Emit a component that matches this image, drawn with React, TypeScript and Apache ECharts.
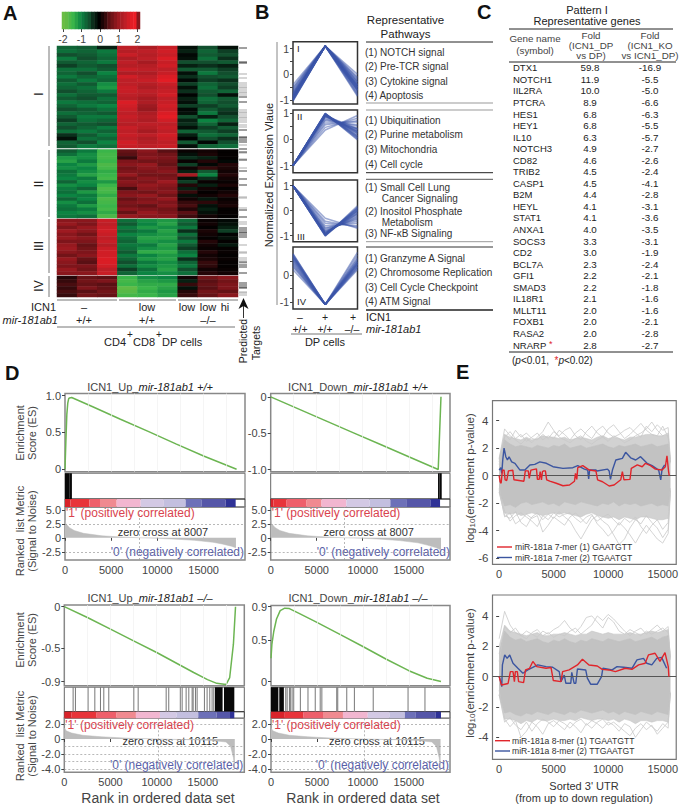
import React, { useEffect, useRef } from "react";
import * as echarts from "echarts";

const heatColumns = [0, 1, 2, 3, 4, 5, 6, 7, 8];
const heatI = [
  [-.7,-.6,-.2,1.5,1.3,1.6,-.1,-.5,-.1],[-.8,-.7,-.9,1.4,1.5,1.7,-.2,-.7,-.4],[-.5,-.6,-.8,1.6,1.4,1.6,-.05,-.6,-.5],[-.9,-.5,-.7,1.3,1.5,1.8,-.1,-.8,-.3],
  [-.6,-.7,-.9,1.5,1.2,1.6,-.5,-.5,-.6],[-.4,-.6,-.5,1.4,1.4,1.7,-.2,-.3,-.2],[-.8,-.8,-.6,1.6,1.5,1.5,-.6,-.6,-.4],[-.7,-.5,-1,1.3,1.3,1.6,-.1,-.9,-.5],
  [-.9,-.7,-.8,1.7,1.5,1.8,-.3,-.5,-.6],[-.6,-.9,-.7,1.5,1.6,1.9,-.05,-.4,-.3],[-.8,-.6,-1.1,1.5,1.4,1.6,-.4,-.7,-.5],[-.7,-.8,-1.2,1.6,1.3,1.5,-.1,-.8,-.4],
  [-.5,-.7,-.9,1.6,1.5,1.6,-.3,-.6,-.7],[-.8,-.6,-.6,1.5,1.4,1.7,-.02,-.5,-.1],[-.6,-.5,-.8,1.4,1.2,1.5,-.2,-.8,-.6],[-.9,-.8,-.7,1.8,1.3,1.6,-.1,-.7,-.5],
  [-.7,-.9,-1,1.7,1.1,1.7,-.4,-.4,-.6],[-.5,-.6,-.8,1.6,1,1.6,-.05,-.6,-.4],[-.8,-.7,-.6,1.5,1.3,1.8,-.1,-.9,-.3],[-.6,-.9,-.9,1.6,1.4,1.9,-.5,-.2,-.5],
  [-.4,-.8,-.7,1.5,1.3,1.7,-.2,-1,-.7],[-.7,-.6,-.5,1.4,1.5,1.5,-.3,-.7,-.2],[-.5,-.7,-.9,1.6,1.4,1.6,-.1,-.4,-.6],[-.8,-.9,-.7,1.5,1.2,1.5,-.7,-.6,-.4],
  [-.3,-.6,-.9,1.6,1.5,1.7,-.2,-.8,-.7],[-.1,-.8,-.7,1.5,1.3,1.6,-.02,-.5,-.3],[-.7,-.5,-1,1.7,1.4,1.5,-.6,-.05,-.5],[-.6,-.9,-.8,1.6,1.5,1.6,-.1,-.7,-.8],
];
const heatII = [
  [-.6,-.9,-1.5,.6,.9,.5,.05,.1,.02],[-.8,-1.1,-1.6,.5,.8,.7,-.1,.15,.03],[-1.2,-1.1,-1.6,.3,.9,.8,-.3,-.2,.02],[-1.3,-.9,-1.5,.8,.7,.7,.05,.2,-.05],
  [-1,-1.2,-1.7,.9,1,.6,-.4,-.05,.2],[-1.1,-1,-1.6,.7,.9,.8,.1,.3,.15],[-.8,-1.1,-1.4,.8,.8,.9,-.2,-.6,.1],[-.9,-1.3,-1.5,1,.7,.7,1.2,-1,.2],
  [-1,-.9,-1.6,.7,.9,.8,-.1,-.3,.1],[-.7,-1.1,-1.2,.9,.8,1.1,-.4,.05,.05],[-1.1,-1,-1.5,.8,1,.9,.2,-.2,.15],[-.9,-.7,-1.7,.4,.9,.8,-.2,.1,.02],
  [-.8,-1.2,-1.6,.8,.7,.9,.3,.02,.1],[-1,-.9,-1.4,.9,1,.7,-.1,.1,.2],[-.7,-1,-1.7,.6,.8,1,.1,-.15,.05],[-1.1,-.8,-1.6,.8,.9,.8,.3,.25,.1],
  [-.9,-1.2,-1.5,.7,.6,.9,.4,-.1,.15],[-.8,-.9,-1.6,.9,.8,.7,.2,-.2,.02],[-1,-1.1,-1.4,.6,1,.8,.5,-.1,.03],[-.9,-.8,-1.7,1,.9,.9,.35,.1,.01],
];
const heatIII = [
  [.9,.9,1.6,-.8,-1.1,-1.2,-.8,.05,-.05],[1,.8,1.5,-.6,-1,-1.3,-.6,.1,-.1],[.8,1,1.6,-.9,-1.2,-1.1,-.9,.02,-.2],[1.1,.9,1.7,-.7,-.9,-1.3,-.3,.15,-.4],
  [.9,.7,1.6,-1,-1.1,-1.2,-.8,.1,-.02],[1,.9,1.5,-.8,-1.3,-1.3,-.5,.03,-.1],[.8,.8,1.6,-.7,-1.2,-1.1,-.9,.2,.02],[1,.6,1.4,-.9,-.9,-1.3,-.6,.1,-.15],
  [1.1,.7,1.6,-.8,-1.1,-1.2,-.4,.05,.03],[.9,.8,1.7,-.6,-1.4,-1.4,-.8,.2,.05],[.7,.9,1.7,-.9,-1,-1.2,-1,.1,.02],[1,.6,1.8,-.7,-1.2,-1.3,-.3,.15,.05],
  [.9,.5,1.8,-.5,-.9,-1.1,-.7,.3,.03],[.8,.8,1.7,-.8,-1.1,-1.2,-.9,.25,.02],[1,.7,1.5,-.4,-.8,-1.3,-.5,.1,.05],[.9,.9,1.6,-.7,-1,-1.1,-.8,.2,.1],
];
const heatIV = [
  [.2,.6,.5,-1.5,-1.1,-1,.1,.7,.9],[.3,.7,.8,-1.6,-1.3,-1.2,-.2,.5,.7],[.4,.6,.5,-1.5,-1.4,-1.4,.3,.6,.8],[.3,.8,.6,-1.9,-1.5,-1.3,-.1,.5,.8],
  [.4,.5,.7,-1.8,-1.4,-1.2,.2,.7,.6],[.3,.7,.6,-1.6,-1.5,-1.3,.3,.6,.9],
];
const colorBarValues = [-2,-1.9,-1.7,-1.5,-1.3,-1.1,-.9,-.7,-.5,-.3,-.15,0,.15,.3,.5,.7,.9,1.1,1.3,1.5,1.7,1.9,2,.9];
const colorBarTicks = [-2, -1, 0, 1, 2];
const targetsBlack = [2,16,17,51,56,84,91,92,94,96,103,106,114,125,133,139,164,171,182,184,186,187,189,191,216,219,221,227,237,239,241,242];
const targetsGray = [28,32,37,39,41,42,44,46,47,49,64,66,67,69,71,72,74,76,79,81,99,107,113,122,151,152,162,176,178,199,206,207,212,214,217,246,247,249];

const patternI = [[-.4,1.1,0],[-.5,1.1,-.1],[-.55,1.1,-.15],[-.6,1.1,-.2],[-.65,1.1,-.25],[-.7,1.1,-.3],[-.72,1.1,-.35],[-.75,1.1,-.4],[-.78,1.1,-.42],[-.8,1.1,-.45],[-.82,1.1,-.48],[-.84,1.1,-.5],[-.86,1.1,-.52],[-.88,1.1,-.55],[-.9,1.1,-.58],[-.92,1.1,-.6],[-.94,1.1,-.62],[-.96,1.1,-.65],[-.98,1.1,-.7],[-1,1.1,-.75],[-1.02,1.1,-.8],[-1.04,1.1,-.85],[-.85,1.1,-.3],[-.9,1.1,-.4],[-.95,1.1,-.5],[-1,1.1,-.6]];
const patternII = [[-1,.35,.9],[-1,.45,.8],[-1,.55,.7],[-1,.62,.65],[-1,.7,.55],[-1,.75,.5],[-1,.8,.4],[-1,.85,.35],[-1,.88,.3],[-1,.9,.25],[-1,.92,.2],[-1,.94,.15],[-1,.95,.1],[-1,.96,.05],[-1,.97,0],[-1,.98,.05],[-1,.93,.22],[-1,.9,.3],[-1,.86,.38],[-1,.96,.12],[-1,.98,-.03],[-1,.94,.28],[-1,.88,.42]];
const patternIII = [[1,-.3,-.7],[1,-.42,-.65],[1,-.5,-.6],[1,-.6,-.5],[1,-.68,-.42],[1,-.72,-.35],[1,-.78,-.3],[1,-.82,-.25],[1,-.85,-.2],[1,-.88,-.15],[1,-.9,-.1],[1,-.92,-.05],[1,-.94,0],[1,-.96,.05],[1,-.98,.1],[1,-1,.15],[1,-1.02,.2],[1,-.95,-.02],[1,-.9,-.12],[1,-.97,.08],[1,-.99,.12],[1,-1,.02]];
const patternIV = [[.2,-1.1,.25],[.3,-1.1,.85],[.35,-1.1,.3],[.4,-1.1,.75],[.45,-1.1,.4],[.5,-1.1,.65],[.55,-1.1,.45],[.58,-1.1,.55],[.62,-1.1,.5],[.65,-1.1,.42],[.68,-1.1,.35],[.7,-1.1,.6],[.72,-1.1,.5],[.75,-1.1,.3],[.78,-1.1,.4],[.8,-1.1,.2]];

const pathwaysI = ["(1) NOTCH signal", "(2) Pre-TCR signal", "(3) Cytokine signal", "(4) Apoptosis"];
const pathwaysII = ["(1) Ubiquitination", "(2) Purine metabolism", "(3) Mitochondria", "(4) Cell cycle"];
const pathwaysIII = ["(1) Small Cell Lung", "      Cancer Signaling", "(2) Inositol Phosphate", "      Metabolism", "(3) NF-κB Signaling"];
const pathwaysIV = ["(1) Granzyme A Signal", "(2) Chromosome Replication", "(3) Cell Cycle Checkpoint", "(4) ATM Signal"];

const geneNames = ["DTX1","NOTCH1","IIL2RA","PTCRA","HES1","HEY1","IL10","NOTCH3","CD82","TRIB2","CASP1","B2M","HEYL","STAT1","ANXA1","SOCS3","CD2","BCL7A","GFI1","SMAD3","IL18R1","MLLT11","FOXB1","RASA2","NRARP"];
const foldDP = ["59.8","11.9","10.0","8.9","6.8","6.8","6.3","4.9","4.6","4.5","4.5","4.4","4.1","4.1","4.0","3.3","3.0","2.3","2.2","2.2","2.1","2.0","2.0","2.0","2.8"];
const foldKO = ["-16.9","-5.5","-5.0","-6.6","-6.3","-5.5","-5.7","-2.7","-2.6","-2.4","-4.1","-2.8","-3.1","-3.6","-3.5","-3.1","-1.9","-2.4","-2.1","-1.8","-1.6","-1.6","-2.1","-2.8","-2.7"];

const es1 = [[0,0],[100,.4],[200,.75],[300,.9],[400,.96],[500,.97],[720,.975],[3000,.85],[6000,.68],[9000,.515],[12000,.345],[15000,.18],[18570,0]];
const es2 = [[0,0],[3000,-.165],[6000,-.33],[9000,-.495],[12000,-.66],[15000,-.825],[18200,-1],[18350,-.5],[18500,0]];
const es3 = [[0,0],[2500,-.13],[5000,-.27],[7500,-.41],[10000,-.55],[12500,-.7],[14000,-.79],[15500,-.875],[16500,-.92],[17500,-.935],[17900,-.85],[18300,-.45],[18530,0]];
const es4 = [[0,.28],[100,.45],[300,.6],[600,.75],[1000,.85],[1500,.88],[2000,.875],[3000,.82],[5000,.71],[7500,.565],[10000,.42],[12500,.27],[15000,.13],[17000,.04],[18500,0]];
const metricA = [[0,3.2],[100,2.5],[500,1.8],[1000,1.3],[2000,.8],[4000,.35],[6000,.15],[8007,0],[10000,-.1],[12000,-.25],[14000,-.45],[16000,-.8],[17000,-1.1],[18000,-1.5],[18500,-1.8]];
const metricB = [[0,3.2],[100,2.5],[500,1.8],[1000,1.3],[2000,.8],[4000,.35],[6000,.15],[8007,0],[10000,-.1],[12000,-.25],[14000,-.5],[16000,-.9],[17000,-1.3],[18000,-1.8],[18500,-2.2]];
const metricC = [[0,1.5],[200,1.1],[800,.8],[2000,.5],[4000,.3],[7000,.1],[10115,0],[14000,-.1],[16000,-.2],[17500,-.4],[18000,-1],[18300,-2.5],[18450,-4]];
const hits1 = [[0,520],[540,620],[640,700]];
const hits2 = [[18180,18320],[18320,18580]];
const hits3 = [[900,900],[1150,1150],[2520,2520],[3250,3250],[3860,3860],[4220,4220],[4760,4760],[7470,7470],[7940,7940],[10970,10970],[11250,11250],[12500,12500],[12700,12700],[13130,13130],[13420,13420],[13780,13780],[13890,13890],[14140,14140],[14320,14320],[15110,15110],[15400,15400],[15690,15690],[15940,15940],[16120,16120],[16300,17130],[17280,18400]];
const hits4 = [[0,800],[900,1400],[1550,1550],[1700,1700],[1950,1950],[2050,2050],[2240,2240],[2420,2420],[3140,3140],[3970,3970],[4760,4760],[5300,5300],[5480,5480],[7100,7100],[7210,7210],[8190,8190],[9020,9020],[11070,11070],[14860,14860],[16700,16700]];
const stripColors = ["#d8232a","#e8343a","#ee5f6b","#f08a90","#f2b6d0","#d3c9e4","#c3bfdf","#6d70b8","#5556a8","#2f3296"];
const stripEdges1 = [0,600,2630,3790,5590,8190,10700,13060,14800,17380,18470];
const stripEdges2 = [0,300,1730,3900,5520,8220,10750,13000,14800,17350,18400];
const stripEdges3 = [0,800,3500,5660,7750,10350,12150,14500,16480,17930,18400];
const stripEdges4 = [0,1500,3500,5660,7830,10530,12880,14570,15760,17930,18500];

const sortedUtr = [0,500,1000,1500,2000,2500,3000,3500,4000,4500,5000,5500,6000,6500,7000,7500,8000,8500,9000,9500,10000,10500,11000,11500,12000,12500,13000,13500,14000,14500,15000,15500,15700];
const bandTop1 = [1.2,2.6,2.3,2.1,2.2,2.1,2.0,2.2,2.1,2.0,2.2,2.1,2.3,2.0,2.1,2.2,2.0,2.1,2.2,2.3,2.1,2.0,2.2,2.1,2.2,2.3,2.1,2.2,2.3,2.1,2.2,2.3,1.0];
const bandBot1 = [-1.1,-2.2,-2.1,-2.3,-2.0,-1.9,-2.1,-2.0,-1.9,-2.1,-2.0,-2.2,-1.9,-2.0,-2.1,-1.9,-2.0,-2.1,-2.2,-2.0,-2.1,-1.9,-2.2,-2.0,-2.1,-2.0,-2.2,-2.1,-2.0,-2.2,-2.1,-2.2,-.9];
const fringeTop1 = [1.3,3.0,2.8,2.7,2.6,2.8,2.6,2.7,2.9,2.8,2.8,2.7,2.8,2.6,2.7,2.8,2.7,2.6,2.8,2.9,2.7,2.8,2.7,2.6,2.8,2.8,2.9,3.0,3.0,2.9,2.9,3.0,1.1];
const fringeBot1 = [-1.2,-2.7,-2.8,-2.7,-2.9,-2.8,-2.7,-2.8,-2.9,-2.8,-2.7,-2.8,-2.7,-2.8,-2.9,-3.0,-2.8,-2.7,-2.9,-3.0,-3.1,-3.0,-3.2,-3.0,-3.1,-3.2,-3.0,-3.0,-3.1,-3.2,-3.2,-3.1,-1.1];
const upper1a = [1.2,3.4,2.9,2.6,2.3,2.7,2.4,2.8,3.2,3.9,3.3,2.8,2.6,2.4,2.7,2.9,2.5,2.3,2.6,2.8,2.5,2.9,2.7,2.4,2.6,2.9,3.1,3.4,3.9,3.3,2.9,3.1,1.0];
const upper1b = [.8,2.8,3.2,2.7,3.0,2.5,2.8,3.1,2.6,2.9,2.7,3.3,3.0,2.6,3.1,3.4,3.0,2.7,3.3,3.6,3.1,2.8,3.0,3.3,3.5,3.1,2.8,3.6,3.2,3.7,3.3,3.5,1.2];
const upper1c = [1.0,3.0,2.6,3.3,2.8,3.1,2.7,2.6,3.0,2.7,3.2,2.9,3.3,3.5,2.9,2.6,3.2,3.6,3.1,2.8,3.4,3.7,3.2,2.7,3.0,3.4,3.8,3.3,3.0,2.9,3.6,2.8,.9];
const lower1a = [-1.2,-2.9,-3.1,-2.6,-3.4,-3.7,-3.0,-2.7,-3.2,-2.8,-3.1,-2.6,-3.0,-3.3,-4.0,-4.6,-3.9,-3.2,-2.9,-3.3,-3.6,-4.3,-5.0,-4.6,-3.8,-3.2,-3.5,-2.9,-3.4,-3.8,-4.5,-3.9,-1.1];
const lower1b = [-.9,-2.6,-3.3,-2.9,-2.7,-3.0,-3.3,-3.7,-2.9,-3.2,-2.7,-3.0,-2.8,-2.7,-3.1,-3.4,-3.0,-2.8,-3.5,-3.9,-4.4,-4.0,-3.4,-3.8,-4.3,-4.9,-4.2,-3.6,-4.1,-4.6,-4.9,-4.2,-1.3];
const lower1c = [-1.0,-3.0,-2.7,-3.5,-3.2,-2.8,-3.1,-2.9,-4.1,-3.6,-3.0,-3.3,-3.6,-3.0,-2.7,-3.1,-3.5,-2.9,-3.3,-3.0,-2.8,-3.2,-3.6,-3.1,-3.4,-3.0,-3.7,-4.2,-3.6,-3.2,-3.9,-3.4,-1.0];
const red1 = [[0,0],[90,-.45],[180,-.55],[300,.4],[450,.4],[550,-.3],[700,-.35],[850,.35],[1250,.4],[1360,-.3],[2270,-.4],[2400,.35],[2670,.35],[2760,-.2],[2910,.4],[3420,.5],[3510,-.27],[3670,-.27],[3760,.3],[3880,-.3],[3970,.3],[4090,.35],[4240,.35],[4360,-.3],[4640,-.4],[5240,-.55],[5850,-.73],[6450,-.68],[6910,-.4],[7000,.17],[7120,-.27],[7210,.58],[7670,.73],[8270,.41],[8880,.34],[9030,-.3],[9480,-.44],[10090,-.75],[10540,-.68],[11150,-.3],[11300,.3],[11450,-.3],[12000,-.27],[12120,.53],[12670,.78],[13120,.65],[13420,.9],[13880,.73],[14330,.48],[14940,.41],[15240,.65],[15390,1.45],[15540,.3],[15600,0]];
const blue1 = [[0,.41],[150,.58],[240,.17],[330,1.14],[450,2],[610,1.38],[760,1.14],[910,1.38],[1150,1],[1450,.9],[1910,.41],[2360,.41],[2820,.78],[3270,.82],[3730,1],[4330,.9],[4940,.65],[5850,.53],[6760,.58],[7210,.73],[7820,.48],[8120,.41],[8210,-.24],[8300,.41],[8880,.41],[8970,.34],[9940,.48],[10090,.34],[10210,-.27],[10390,.41],[10700,1.14],[11300,1.26],[11600,1.7],[12060,1.3],[12520,1.14],[12970,1.38],[13270,1.14],[13570,.9],[14030,.73],[14630,.41],[14820,-.3],[14940,.48],[15180,.78]];
const bandTop2 = [1.5,3.0,2.6,2.4,2.5,2.3,2.4,2.5,2.3,2.2,2.4,2.3,2.5,2.3,2.2,2.4,2.3,2.5,2.4,2.3,2.5,2.4,2.3,2.4,2.5,2.3,2.4,2.5,2.6,2.4,2.6,2.7,1.2];
const bandBot2 = [-1.2,-2.4,-2.3,-2.5,-2.6,-2.4,-2.5,-2.3,-2.4,-2.5,-2.3,-2.4,-2.5,-2.3,-2.4,-2.2,-2.3,-2.4,-2.3,-2.2,-2.4,-2.3,-2.5,-2.3,-2.4,-2.5,-2.3,-2.4,-2.5,-2.3,-2.4,-2.5,-1.1];
const fringeTop2 = [2.0,3.4,3.0,2.9,2.8,2.7,2.8,2.9,2.7,2.7,2.8,2.8,2.9,2.8,2.7,2.8,2.8,3.0,2.9,2.8,2.9,2.8,2.8,2.8,2.9,2.8,2.8,2.9,3.0,2.9,3.0,3.1,1.3];
const fringeBot2 = [-1.2,-2.8,-2.8,-2.9,-3.1,-2.9,-3.0,-2.8,-2.9,-2.9,-2.8,-2.9,-2.9,-2.8,-2.9,-2.7,-2.8,-2.9,-2.8,-2.8,-2.9,-2.8,-3.0,-2.8,-2.9,-3.1,-2.9,-2.9,-3.0,-2.9,-2.9,-3.0,-1.1];
const upper2a = [2.5,4.3,3.4,2.9,2.7,3.0,2.8,2.6,3.0,2.8,3.1,3.3,3.7,3.2,2.9,3.3,3.9,4.0,3.6,3.2,3.9,3.6,3.0,2.8,3.1,2.9,2.7,3.0,2.8,3.0,3.2,2.9,1.3];
const upper2b = [1.0,3.3,2.9,3.2,2.7,2.5,2.9,3.1,2.7,2.9,2.6,2.8,2.7,3.0,3.2,2.8,3.1,3.4,4.0,3.7,4.1,3.8,3.4,3.0,2.7,3.0,3.2,2.8,3.1,3.4,3.0,3.3,1.1];
const lower2a = [-1.2,-3.0,-2.7,-3.2,-3.5,-3.0,-3.6,-3.1,-2.8,-3.0,-3.3,-2.9,-3.1,-3.4,-3.0,-2.8,-3.2,-2.9,-3.1,-3.4,-3.0,-3.2,-3.6,-3.1,-3.3,-4.0,-3.5,-3.0,-3.3,-3.6,-3.1,-3.4,-1.0];
const lower2b = [-.9,-2.8,-3.3,-2.9,-4.0,-3.6,-3.0,-3.3,-3.8,-3.1,-2.9,-3.2,-3.5,-3.0,-3.3,-3.7,-3.1,-3.4,-3.0,-2.8,-3.2,-3.0,-3.3,-3.6,-3.9,-3.4,-3.1,-3.5,-3.2,-3.8,-3.4,-3.0,-1.1];
const red2 = [[0,0],[210,-.55],[820,-.45],[1030,.33],[1270,.33],[1400,-.33],[1485,.33],[1665,.33],[1785,-.33],[2240,-.4],[2420,.44],[2790,.55],[3090,1],[3450,.66],[4300,.55],[4760,.6],[4970,-.26],[5670,-.33],[5820,.33],[6420,.44],[7180,.77],[7640,1.14],[8240,.77],[9000,.7],[9450,.48],[10060,.44],[10660,.33],[11570,.55],[12180,.48],[12790,.77],[13390,.88],[13690,1.43],[14300,1.54],[14750,1],[15210,1.58],[15510,.66],[15570,0]];
const blue2 = [[0,0],[150,-.33],[240,-.66],[300,.77],[510,1.43],[730,1.2],[970,1.43],[1270,.88],[1720,.55],[2180,.22],[2630,.44],[3540,.77],[4300,.66],[4910,.62],[5510,.33],[5670,-.33],[5970,.1],[6120,-.44],[6570,-.44],[6660,.28],[6880,-.44],[7030,-.44],[7180,.5],[7940,.44],[8090,-.1],[8390,-.5],[9000,-.5],[9390,0],[9510,.55],[10360,.44],[10810,.66],[11420,.62],[12180,.55],[12640,1.1],[13240,1.2],[13540,.88],[14000,.77],[14450,1.2],[14900,1.27],[15360,.55]];

const rankTicks = [0, 5000, 10000, 15000];
const utrTicks = [0, 5000, 10000, 15000];
const FONT = "Liberation Sans";
const graphics: any[] = [];
const T = (text: string, x: number, y: number, o: any = {}) => graphics.push({
  type: "text", x, y, rotation: o.rot || 0, silent: true,
  style: { text, x: 0, y: 0, fill: o.c || "#222", fontFamily: FONT, fontSize: o.s || 10, fontStyle: o.i ? "italic" : "normal", fontWeight: o.b ? "bold" : "normal", align: o.a || "left", verticalAlign: "middle", rich: o.rich },
});
const L = (x1: number, y1: number, x2: number, y2: number, c = "#222", w = 1) => graphics.push({
  type: "line", silent: true, shape: { x1, y1, x2, y2 }, style: { stroke: c, lineWidth: w },
});

function buildOption() {
  const grid: any[] = [], xAxis: any[] = [], yAxis: any[] = [], series: any[] = [];
  const addGrid = (x0: number, y0: number, x1: number, y1: number, border?: string, bw = 1) => {
    grid.push({ left: x0, top: y0, width: x1 - x0, height: y1 - y0, show: !!border, borderColor: border || "transparent", borderWidth: bw, backgroundColor: "transparent" });
    return grid.length - 1;
  };
  const addAxis = (list: any[], o: any) => { list.push(o); return list.length - 1; };
  const hiddenCat = (g: number, data: any[], extra: any = {}) => ({ gridIndex: g, type: "category", data, show: false, ...extra });
  const hiddenVal = (g: number, min: number, max: number, extra: any = {}) => ({ gridIndex: g, type: "value", min, max, show: false, splitLine: { show: false }, ...extra });
  const valAxis = (g: number, min: number, max: number, ticks: number[], fmt: any, s: number, extra: any = {}) => ({
    gridIndex: g, type: "value", min, max, splitLine: { show: false }, axisLine: { show: false },
    axisTick: { show: true, length: 3, lineStyle: { color: "#444" }, customValues: ticks },
    axisLabel: { customValues: ticks, formatter: fmt, fontSize: s, color: "#444", fontFamily: FONT, margin: 4, showMinLabel: true, showMaxLabel: true, hideOverlap: false },
    ...extra,
  });

  // Panel A heat maps
  [[heatI, 46, 148], [heatII, 149.5, 218], [heatIII, 219, 275], [heatIV, 276, 297]].forEach(([rows, t, b]: any) => {
    const g = addGrid(57, t, 238, b);
    const xi = addAxis(xAxis, hiddenCat(g, heatColumns));
    const yi = addAxis(yAxis, hiddenCat(g, rows.map((_: any, i: number) => i), { inverse: true }));
    const data: any[] = [];
    rows.forEach((r: number[], i: number) => r.forEach((v, j) => data.push([j, i, v])));
    series.push({ type: "heatmap", xAxisIndex: xi, yAxisIndex: yi, data, silent: true, progressive: 0, itemStyle: { borderWidth: 0 } });
  });
  // colour bar
  {
    const g = addGrid(62, 12, 140, 29);
    const xi = addAxis(xAxis, hiddenCat(g, colorBarValues.map((_, i) => i)));
    const yi = addAxis(yAxis, hiddenCat(g, [0]));
    series.push({ type: "heatmap", xAxisIndex: xi, yAxisIndex: yi, data: colorBarValues.map((v, i) => [i, 0, v]), silent: true, progressive: 0 });
    addAxis(xAxis, valAxis(g, -2.05, 2.14, colorBarTicks, (v: number) => String(v), 10.5, { position: "bottom" }));
  }
  // targets
  {
    const g = addGrid(239, 46, 247, 297);
    const xi = addAxis(xAxis, hiddenVal(g, 0, 1));
    const yi = addAxis(yAxis, hiddenVal(g, 0, 251, { inverse: true }));
    [[targetsGray, "#999"], [targetsBlack, "#111"]].forEach(([d, c]: any) =>
      series.push({ type: "scatter", xAxisIndex: xi, yAxisIndex: yi, data: d.map((v: number) => [0.5, v]), symbol: "rect", symbolSize: [8, 1], silent: true, itemStyle: { color: c } }));
  }
  // Panel B
  const bLayout: any[] = [
    [patternI, 41.7, 104, -1.15, 1.27],
    [patternII, 110, 172.7, -1.27, 1.11],
    [patternIII, 180, 241.7, -1.24, 1.23],
    [patternIV, 247, 309, -1.27, 1.05],
  ];
  bLayout.forEach(([lines, t, b, lo, hi], k) => {
    const g = addGrid(293, t, 357.5, b, "#333", 1.5);
    const xi = addAxis(xAxis, hiddenCat(g, ["a", "b", "c"], { boundaryGap: false }));
    const labels = k === 3 ? [-1, 0] : [-1, 0, 1];
    const yi = addAxis(yAxis, valAxis(g, lo, hi, labels, (v: number) => String(v), 10.5));
    yAxis[yi].axisTick.customValues = k === 3 ? [-1, -.5, 0, .5] : [-1, -.5, 0, .5, 1];
    lines.forEach((v: number[]) => series.push({ type: "line", xAxisIndex: xi, yAxisIndex: yi, data: v, symbol: "none", silent: true, lineStyle: { color: "rgba(60,85,170,0.5)", width: 1.5 } }));
  });

  // Panel D
  const dashed = (vals: number[], key: string, color = "#999", type: any = [2, 2]) => ({
    silent: true, symbol: "none", animation: false, label: { show: false }, lineStyle: { color, width: .7, type }, data: vals.map((v) => ({ [key]: v })),
  });
  const esFmt = (v: number) => (v === 0 ? "0" : v === 1 ? "1.0" : v === -1 ? "-1.0" : String(v));
  const metricFmt = (v: number) => (v === 0 ? "0" : v.toFixed(1));
  const gseaLayout: any[] = [
    { x0: 65, x1: 245, top: 393.5, esB: 471.7, hitB: 499, strB: 507, metB: 560, lo: -.033, hi: 1.03, esT: [0, .5, 1], mlo: -3.97, mhi: 5.5, mT: [-2.5, 0, 2.5, 5], es: es1, hits: hits1, edges: stripEdges1, metric: metricA, zero: 8007 },
    { x0: 270.7, x1: 450, top: 393.5, esB: 471.7, hitB: 499, strB: 507, metB: 560, lo: -1.03, hi: .046, esT: [-1, -.5, 0], mlo: -3.97, mhi: 5.5, mT: [-2.5, 0, 2.5, 5], es: es2, hits: hits2, edges: stripEdges2, metric: metricB, zero: 8007 },
    { x0: 64.3, x1: 244.3, top: 605, esB: 685.7, hitB: 711.7, strB: 718.3, metB: 772.3, lo: -.948, hi: .02, esT: [-.9, -.5, 0], mlo: -4.47, mhi: 2.78, mT: [-4, -2, 0, 2], es: es3, hits: hits3, edges: stripEdges3, metric: metricC, zero: 10115 },
    { x0: 271, x1: 450, top: 605.5, esB: 685.7, hitB: 711.7, strB: 718.3, metB: 772.3, lo: -.05, hi: .912, esT: [0, .5, .9], mlo: -4.47, mhi: 2.78, mT: [-4, -2, 0, 2], es: es4, hits: hits4, edges: stripEdges4, metric: metricC, zero: 10115 },
  ];
  const xMax = 19480;
  gseaLayout.forEach((p) => {
    const major = p.zero === 8007 ? [-2.5, 2.5] : [-4, -3, -2, -1, 2];
    // ES
    let g = addGrid(p.x0, p.top, p.x1, p.esB, "#888", 1.5);
    let xi = addAxis(xAxis, hiddenVal(g, 0, xMax));
    let yi = addAxis(yAxis, valAxis(g, p.lo, p.hi, p.esT, esFmt, 11));
    series.push({ type: "line", xAxisIndex: xi, yAxisIndex: yi, data: p.es, symbol: "none", silent: true, lineStyle: { color: "#6cb552", width: 1.5 }, markLine: dashed([2500, 5000, 7500, 10000, 12500, 15000, 17500], "xAxis", "#f0f0f0", "solid") });
    // hits
    g = addGrid(p.x0, p.esB + 1.5, p.x1, p.hitB, "#666", 1);
    xi = addAxis(xAxis, hiddenVal(g, 0, xMax));
    yi = addAxis(yAxis, hiddenVal(g, 0, 1));
    series.push({
      type: "custom", xAxisIndex: xi, yAxisIndex: yi, data: p.hits, silent: true, encode: { x: [0, 1] },
      renderItem: (_: any, api: any) => {
        const s = api.value(0), e = api.value(1);
        const a = api.coord([s, 1]), b = api.coord([e, 0]);
        return { type: "rect", shape: { x: a[0], y: a[1], width: Math.max(b[0] - a[0], 1), height: b[1] - a[1] }, style: { fill: e === s ? "#777" : "#080808" } };
      },
    });
    // strip
    g = addGrid(p.x0, p.hitB, p.x1, p.strB, "#333", 1);
    xi = addAxis(xAxis, hiddenVal(g, 0, xMax));
    yi = addAxis(yAxis, hiddenVal(g, 0, 1));
    series.push({
      type: "custom", xAxisIndex: xi, yAxisIndex: yi, silent: true, encode: { x: [0, 1] },
      data: stripColors.map((_, i) => [p.edges[i], p.edges[i + 1], i]),
      renderItem: (_: any, api: any) => {
        const a = api.coord([api.value(0), 1]), b = api.coord([api.value(1), 0]);
        return { type: "rect", shape: { x: a[0], y: a[1], width: b[0] - a[0], height: b[1] - a[1] }, style: { fill: stripColors[api.value(2)] } };
      },
    });
    // metric
    g = addGrid(p.x0, p.strB, p.x1, p.metB, "#888", 1.5);
    xi = addAxis(xAxis, valAxis(g, 0, xMax, rankTicks, (v: number) => String(v), 11));
    yi = addAxis(yAxis, valAxis(g, p.mlo, p.mhi, p.mT, metricFmt, 11));
    series.push({
      type: "line", xAxisIndex: xi, yAxisIndex: yi, data: p.metric, symbol: "none", silent: true,
      lineStyle: { color: "#bdbdbd", width: .5 }, areaStyle: { color: "#bdbdbd", opacity: 1, origin: 0 },
      markLine: { ...dashed(major, "yAxis"), data: [...major.map((v: number) => ({ yAxis: v })), { xAxis: p.zero }] },
    });
  });

  // Panel E
  const eLayout: any[] = [
    { t: 400.7, b: 564.3, lo: -6.44, hi: 5.45, ticks: [-6, -4, -2, 0, 2, 4], top: bandTop1, bot: bandBot1, ftop: fringeTop1, fbot: fringeBot1, lines: [upper1a, upper1b, upper1c, lower1a, lower1b, lower1c], red: red1, blue: blue1 },
    { t: 595, b: 759.3, lo: -5.45, hi: 5.38, ticks: [-4, -2, 0, 2, 4], top: bandTop2, bot: bandBot2, ftop: fringeTop2, fbot: fringeBot2, lines: [upper2a, upper2b, lower2a, lower2b], red: red2, blue: blue2 },
  ];
  eLayout.forEach((p) => {
    const g = addGrid(492.5, p.t, 676.7, p.b, "#777", 1.2);
    const xi = addAxis(xAxis, valAxis(g, -610, 16240, utrTicks, (v: number) => String(v), 11));
    const yi = addAxis(yAxis, valAxis(g, p.lo, p.hi, p.ticks, (v: number) => String(v), 11.5));
    const xy = (v: number[]) => v.map((y, i) => [sortedUtr[i], y]);
    p.lines.forEach((v: number[]) => series.push({ type: "line", xAxisIndex: xi, yAxisIndex: yi, data: xy(v), symbol: "none", silent: true, lineStyle: { color: "#c9c9c9", width: .8 } }));
    [p.ftop, p.fbot].forEach((v: number[]) => series.push({ type: "line", xAxisIndex: xi, yAxisIndex: yi, data: xy(v), symbol: "none", silent: true, lineStyle: { color: "#c8c8c8", width: .6 }, areaStyle: { color: "#d2d2d2", opacity: 1, origin: 0 } }));
    [p.top, p.bot].forEach((v: number[]) => series.push({ type: "line", xAxisIndex: xi, yAxisIndex: yi, data: xy(v), symbol: "none", silent: true, lineStyle: { color: "#c2c2c2", width: .7 }, areaStyle: { color: "#c2c2c2", opacity: 1, origin: 0 } }));
    series.push({ type: "line", xAxisIndex: xi, yAxisIndex: yi, data: p.blue, symbol: "none", silent: true, z: 4, lineStyle: { color: "#3b55a0", width: 1.4 } });
    series.push({ type: "line", xAxisIndex: xi, yAxisIndex: yi, data: p.red, symbol: "none", silent: true, z: 5, lineStyle: { color: "#e0252b", width: 1.4 }, markLine: { silent: true, symbol: "none", label: { show: false }, lineStyle: { color: "#555", width: 1, type: "solid" }, data: [{ yAxis: 0 }] } });
  });

  // ---- texts
  graphics.length = 0;
  [["A", 3, 13], ["B", 255, 12], ["C", 477, 12], ["D", 5, 373], ["E", 456, 372]].forEach(([s, x, y]: any) => T(s, x, y, { s: 20, b: true, c: "#111" }));
  // A
  [[46, 146], [150, 217], [219, 273], [276, 297]].forEach(([a, b]) => L(49, a, 49, b, "#777", 1));
  [["I", 94], ["II", 184], ["III", 246], ["IV", 286]].forEach(([s, y]: any) => T(s, 39, y, { rot: Math.PI / 2, a: "center", s: 12 }));
  T("ICN1", 56, 307, { a: "right", s: 11 });
  T("mir-181ab1", 58, 320, { a: "right", s: 11, i: true });
  [["–", 84, 307], ["low", 147, 307], ["low", 187, 307], ["low", 208, 307], ["hi", 225, 307], ["+/+", 84, 320], ["+/+", 147, 320], ["–/–", 208, 320]].forEach(([s, x, y]: any) => T(s, x, y, { a: "center", s: 11 }));
  [[57, 117], [119, 176], [178, 238]].forEach(([a, b]) => L(a, 300, b, 300, "#777", 1));
  L(57, 327, 235, 327, "#777", 1);
  T("CD4", 104, 342, { s: 11 }); T("+", 127, 334, { s: 10 }); T("CD8", 133, 342, { s: 11 }); T("+", 156, 334, { s: 10 }); T("DP cells", 162, 342, { s: 11 });
  graphics.push({ type: "polygon", silent: true, shape: { points: [[243.5, 298], [238.5, 309], [243.5, 306], [248.5, 309]] }, style: { fill: "#111" } });
  L(243.5, 306, 243.5, 318, "#333", 1);
  T("Predicted", 243, 341, { rot: Math.PI / 2, a: "center", s: 10.5 });
  T("Targets", 256, 343, { rot: Math.PI / 2, a: "center", s: 10.5 });
  // B
  T("Normalized Expression Vlaue", 269, 175, { rot: Math.PI / 2, a: "center", s: 11 });
  L(277, 42, 277, 305, "#888", 1);
  [["I", 297, 48], ["II", 297, 116], ["III", 297, 236], ["IV", 297, 301]].forEach(([s, x, y]: any) => T(s, x, y, { s: 9.5 }));
  T("Representative", 405.5, 20, { a: "center", s: 11.5 });
  T("Pathways", 405.5, 34, { a: "center", s: 11.5 });
  [[42, "#222", 1], [103, "#999", 1.2], [110, "#999", 1.2], [172.7, "#222", 1], [179.3, "#555", 1], [241.7, "#999", 1], [247, "#333", 1], [310, "#222", 1.5]].forEach(([y, c, w]: any) => L(366, y, 493, y, c, w));
  const pw = (list: string[], ys: number[]) => list.forEach((s, i) => T(s, 365, ys[i], { s: 10, c: "#333" }));
  pw(pathwaysI, [52, 66, 81, 95]);
  pw(pathwaysII, [120, 134.6, 149, 164]);
  pw(pathwaysIII, [187.6, 198.5, 211, 222, 233]);
  pw(pathwaysIV, [258, 272, 287, 301]);
  [["–", 300, 317], ["+", 325, 317], ["+", 353, 317], ["+/+", 300, 329], ["+/+", 325, 329], ["–/–", 352, 329]].forEach(([s, x, y]: any) => T(s, x, y, { a: "center", s: 10.5 }));
  T("ICN1", 366, 317, { s: 11 });
  T("mir-181ab1", 366, 329, { s: 11, i: true });
  L(291, 334, 362, 334, "#777", 1);
  T("DP cells", 325, 342, { a: "center", s: 11 });
  // C
  T("Pattern I", 587, 10, { a: "center", s: 11 });
  T("Representative genes", 587, 21, { a: "center", s: 11 });
  L(509, 29, 673, 29, "#222", 1);
  const headS = { a: "center", s: 9.8, c: "#444" };
  T("Gene name", 535, 38, headS); T("(symbol)", 535, 50, headS);
  T("Fold", 591, 35.5, headS); T("(ICN1_DP", 591, 45.5, headS); T("vs DP)", 591, 55.5, headS);
  T("Fold", 650, 35.5, headS); T("(ICN1_KO", 650, 45.5, headS); T("vs ICN1_DP)", 650, 55.5, headS);
  L(509, 62, 676, 62, "#222", 1);
  geneNames.forEach((g, i) => {
    const y = 67.8 + i * 11.55;
    T(g, 513, y, { s: 9.5 });
    T(foldDP[i], 590, y, { s: 9.8, a: "center" });
    T(foldKO[i], 650, y, { s: 9.8, a: "center" });
  });
  T("*", 549, 344, { s: 9, c: "#e0252b" });
  L(509, 352, 673, 352, "#222", 1);
  T("{n|(}{i|p}{n|<0.01,  }{r|*}{i|p}{n|<0.02)}", 512, 360, { s: 10, rich: { n: { fontFamily: FONT, fontSize: 10, fill: "#222" }, i: { fontFamily: FONT, fontSize: 10, fontStyle: "italic", fill: "#222" }, r: { fontFamily: FONT, fontSize: 10, fill: "#e0252b" } } });
  // D
  const tRich = { n: { fontFamily: FONT, fontSize: 11, fill: "#444" }, i: { fontFamily: FONT, fontSize: 11, fontStyle: "italic", fill: "#222" } };
  T("{n|ICN1_Up_}{i|mir-181ab1 +/+}", 150, 386.5, { a: "center", rich: tRich });
  T("{n|ICN1_Down_}{i|mir-181ab1 +/+}", 358, 386.5, { a: "center", rich: tRich });
  T("{n|ICN1_Up_}{i|mir-181ab1 –/–}", 150, 598, { a: "center", rich: tRich });
  T("{n|ICN1_Down_}{i|mir-181ab1 –/–}", 358, 598, { a: "center", rich: tRich });
  [[433, 531], [640, 736]].forEach(([a, b]) => {
    T("Enrichment", 20, a, { rot: Math.PI / 2, a: "center", s: 11, c: "#444" });
    T("Score (ES)", 32, a, { rot: Math.PI / 2, a: "center", s: 11, c: "#444" });
    T("Ranked  list Metric", 20, b, { rot: Math.PI / 2, a: "center", s: 11, c: "#444" });
    T("(Signal to Noise)", 32, b, { rot: Math.PI / 2, a: "center", s: 11, c: "#444" });
  });
  const RED = "#d9434e", BLUE = "#5a5fa8";
  gseaLayout.forEach((p, k) => {
    const y1 = k < 2 ? 513 : 725;
    const yz = k < 2 ? 531.5 : 741;
    const y0 = k < 2 ? 552 : 765;
    T("'1' (positively correlated)", p.x0 + 1, y1, { s: 12, c: RED });
    T(`zero cross at ${p.zero}`, p.x0 + (k < 2 ? 98 : 106), yz, { s: 11, a: "center", c: "#333" });
    T("'0' (negatively correlated)", p.x1 + (k === 1 ? 0 : -1), y0, { s: 12, c: BLUE, a: "right" });
  });
  T("Rank in ordered data set", 158, 798, { a: "center", s: 14, c: "#444" });
  T("Rank in ordered data set", 363, 798, { a: "center", s: 14, c: "#444" });
  // E
  const lgRich = { a: { fontFamily: FONT, fontSize: 11.5, fill: "#444" }, b: { fontFamily: FONT, fontSize: 8, fill: "#444", verticalAlign: "bottom" } };
  T("{a|log}{b|10}{a|(enrichment p-value)}", 470, 478, { rot: Math.PI / 2, a: "center", rich: lgRich });
  T("{a|log}{b|10}{a|(enrichment p-value)}", 470, 673, { rot: Math.PI / 2, a: "center", rich: lgRich });
  [[497, 512, 547, "#e0252b"], [497, 512, 557.5, "#3b55a0"], [495, 510, 740.7, "#e0252b"], [495, 510, 751, "#3b55a0"]].forEach(([a, b, y, c]: any) => L(a, y, b, y, c, 1.4));
  T("miR-181a 7-mer (1) GAATGTT", 515, 547, { s: 8.6, c: "#333" });
  T("miR-181a 7-mer (2) TGAATGT", 515, 557.5, { s: 8.6, c: "#333" });
  T("miR-181a 8-mer (1) TGAATGTT", 512, 740.7, { s: 8.6, c: "#333" });
  T("miR-181a 8-mer (2) TTGAATGT", 512, 751, { s: 8.6, c: "#333" });
  T("Sorted 3' UTR", 584, 786, { a: "center", s: 11, c: "#333" });
  T("(from up to down regulation)", 584, 798, { a: "center", s: 11, c: "#333" });

  return {
    animation: false,
    grid, xAxis, yAxis, series,
    visualMap: {
      show: false, type: "continuous", seriesIndex: [0, 1, 2, 3, 4], min: -2, max: 2,
      inRange: { color: ["#6abd45", "#3ab54a", "#0c8442", "#124f2e", "#000000", "#5a1014", "#96191f", "#bd1f27", "#ed1c24"] },
    },
    graphic: graphics,
  };
}

export default function App() {
  const ref = useRef<HTMLDivElement>(null);
  useEffect(() => {
    const chart = echarts.init(ref.current!, undefined, { renderer: "svg" });
    chart.setOption(buildOption() as any);
    return () => chart.dispose();
  }, []);
  return <div ref={ref} style={{ position: "absolute", left: 0, top: 0, width: 681, height: 807, background: "#fff" }} />;
}
